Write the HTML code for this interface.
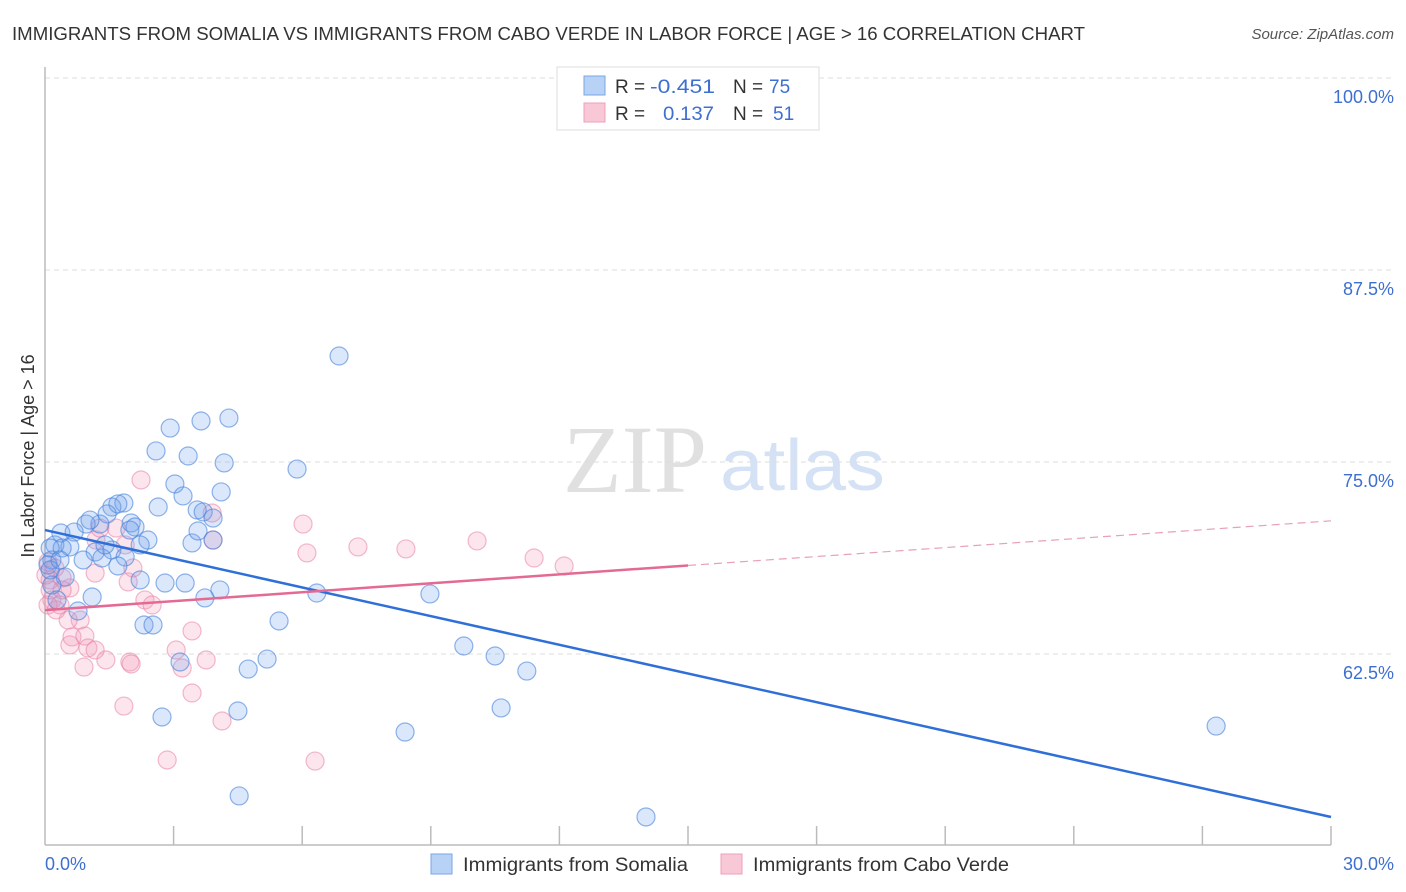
<!DOCTYPE html>
<html><head><meta charset="utf-8"><style>
body{margin:0;background:#fff;font-family:"Liberation Sans",sans-serif;}
svg{display:block}
</style></head><body>
<svg id="chart" width="1406" height="892" xmlns="http://www.w3.org/2000/svg">
<text x="12" y="40" font-size="18" fill="#333" textLength="1073" lengthAdjust="spacingAndGlyphs">IMMIGRANTS FROM SOMALIA VS IMMIGRANTS FROM CABO VERDE IN LABOR FORCE | AGE &gt; 16 CORRELATION CHART</text>
<text x="1394" y="39" font-size="15" fill="#555" font-style="italic" text-anchor="end">Source: ZipAtlas.com</text>
<text x="635" y="492" font-size="96" fill="#e0e0e0" font-family="Liberation Serif,serif" text-anchor="middle">ZIP</text>
<text x="720" y="490" font-size="72" fill="#d5e2f5" textLength="165" lengthAdjust="spacingAndGlyphs">atlas</text>
<g id="grid"></g>
<line x1="45" y1="67" x2="45" y2="845" stroke="#bbb" stroke-width="1.5"/>
<line x1="45" y1="845" x2="1331" y2="845" stroke="#bbb" stroke-width="1.5"/>
<g id="xticks"></g>
<g id="points"></g>
<g id="trends"></g>
<text x="34" y="456" font-size="18" fill="#333" text-anchor="middle" transform="rotate(-90 34 456)">In Labor Force | Age &gt; 16</text>
<text x="45" y="870" font-size="18" fill="#3d6fd1">0.0%</text>
<text x="1394" y="870" font-size="18" fill="#3d6fd1" text-anchor="end">30.0%</text>
<g>
<rect x="557" y="67" width="262" height="63" fill="#fff" stroke="#ddd"/>
<rect x="584" y="76" width="21" height="19" fill="#b8d2f5" stroke="#7aa6e6"/>
<rect x="584" y="103" width="21" height="19" fill="#f8c8d7" stroke="#eca0b9"/>
<text x="615" y="93" font-size="19" fill="#333">R = </text><text x="650" y="93" font-size="19" fill="#3d6fd1" textLength="65" lengthAdjust="spacingAndGlyphs">-0.451</text>
<text x="733" y="93" font-size="19" fill="#333">N = </text><text x="769" y="93" font-size="19" fill="#3d6fd1">75</text>
<text x="615" y="120" font-size="19" fill="#333">R = </text><text x="663" y="120" font-size="19" fill="#3d6fd1" textLength="51" lengthAdjust="spacingAndGlyphs">0.137</text>
<text x="733" y="120" font-size="19" fill="#333">N = </text><text x="773" y="120" font-size="19" fill="#3d6fd1">51</text>
</g>
<g>
<rect x="431" y="854" width="21" height="20" fill="#b8d2f5" stroke="#7aa6e6"/>
<text x="463" y="871" font-size="19" fill="#333" textLength="225" lengthAdjust="spacingAndGlyphs">Immigrants from Somalia</text></g>
<g>
<rect x="721" y="854" width="21" height="20" fill="#f8c8d7" stroke="#eca0b9"/>
<text x="753" y="871" font-size="19" fill="#333" textLength="256" lengthAdjust="spacingAndGlyphs">Immigrants from Cabo Verde</text></g>
</svg>
<script>
const yTicks=[100,87.5,75,62.5];
const yTickLabels=["100.0%","87.5%","75.0%","62.5%"];
const xTicks=[3,6,9,12,15,18,21,24,27,30];
const somaliaX=[6.86,4.29,3.64,2.92,2.59,3.34,4.18,5.88,3.03,3.22,4.11,2.64,1.84,1.56,1.70,1.45,3.55,3.69,3.92,2.01,2.10,1.28,0.96,0.37,0.68,2.40,2.22,3.43,3.92,3.57,0.23,0.58,0.40,1.17,1.56,1.87,0.89,1.33,0.16,1.70,2.22,2.80,3.27,4.08,3.73,1.10,6.34,8.98,0.47,0.77,2.31,2.52,5.46,9.77,3.15,5.18,4.74,10.50,11.24,2.73,4.50,10.64,8.40,4.53,14.02,27.32,0.12,0.07,0.16,0.28,0.12,0.35,1.40,1.05,1.98];
const somaliaY=[81.90,77.86,77.67,77.21,75.72,75.39,74.94,74.54,73.57,72.79,73.05,72.07,72.33,72.07,72.27,71.62,71.88,71.75,71.35,71.03,70.77,70.96,70.96,70.38,70.44,69.92,69.60,69.73,69.92,70.51,69.60,69.47,69.40,69.14,69.27,68.82,68.62,68.75,68.62,68.23,67.32,67.12,67.12,66.67,66.15,66.21,66.47,66.41,67.51,65.30,64.39,64.39,64.65,63.02,61.98,62.17,61.52,62.37,61.39,58.40,58.79,58.99,57.42,53.26,51.89,57.81,69.40,68.30,66.99,66.02,67.97,68.62,69.60,71.22,70.57];
const caboX=[2.24,6.02,3.90,3.92,1.19,1.66,1.28,1.87,6.11,7.30,8.42,10.08,11.41,12.11,0.07,0.23,0.12,0.40,1.17,2.05,0.58,0.16,0.35,2.33,2.50,1.94,0.82,0.54,0.63,0.93,0.58,1.00,1.17,1.42,1.98,2.01,3.06,3.43,3.76,3.20,0.91,3.43,1.84,4.13,2.85,6.30,0.07,0.12,0.26,0.02,0.40];
const caboY=[73.83,70.96,71.68,69.92,69.92,70.70,70.70,69.60,69.08,69.47,69.34,69.86,68.75,68.23,68.49,68.10,67.32,67.45,67.77,68.10,66.80,66.02,65.69,66.02,65.69,67.19,64.71,64.71,63.61,63.67,63.09,62.89,62.76,62.11,61.98,61.85,62.76,64.00,62.11,61.59,61.65,59.96,59.11,58.14,55.60,55.53,65.69,66.67,65.37,67.64,66.67];
const somaliaTrend=[70.57,51.89];
const caboTrend=[65.36,71.17];
const caboSolidEnd=15;

const NS="http://www.w3.org/2000/svg";
const xs=v=>45+v*(1286/30);
const ys=v=>78+(100-v)*15.36;
function mk(tag,attrs,parent){const e=document.createElementNS(NS,tag);for(const k in attrs)e.setAttribute(k,attrs[k]);parent.appendChild(e);return e;}
const grid=document.getElementById('grid');
yTicks.forEach((t,i)=>{
 const l=mk('line',{x1:45,x2:1394,y1:ys(t),y2:ys(t),stroke:'#ddd','stroke-dasharray':'5,4'},grid);
 
 
 const tx=mk('text',{x:1394,y:ys(t)+25,'font-size':18,fill:'#3d6fd1','text-anchor':'end'},grid);
 tx.textContent=yTickLabels[i];
 
 
});
const xt=document.getElementById('xticks');
xTicks.forEach(t=>{
 const l=mk('line',{x1:xs(t),x2:xs(t),y1:826,y2:845,stroke:'#bbb','stroke-width':1.5},xt);
 
 
});
const pts=document.getElementById('points');
caboX.forEach((x,i)=>{
 const c=mk('circle',{cx:xs(x),cy:ys(caboY[i]),r:9,fill:'rgba(242,150,182,0.25)',stroke:'rgba(232,130,165,0.55)','stroke-width':1.2},pts);
 
 
});
somaliaX.forEach((x,i)=>{
 const c=mk('circle',{cx:xs(x),cy:ys(somaliaY[i]),r:9,fill:'rgba(110,160,235,0.25)',stroke:'rgba(70,130,220,0.6)','stroke-width':1.2},pts);
 
 
});
const tr=document.getElementById('trends');
const cy=x=>caboTrend[0]+(caboTrend[1]-caboTrend[0])*x/30;
const l1=mk('line',{x1:xs(0),y1:ys(somaliaTrend[0]),x2:xs(30),y2:ys(somaliaTrend[1]),stroke:'#2f6fd8','stroke-width':2.5},tr);


const l2=mk('line',{x1:xs(0),y1:ys(cy(0)),x2:xs(caboSolidEnd),y2:ys(cy(caboSolidEnd)),stroke:'#e46a93','stroke-width':2.5},tr);


const l3=mk('line',{x1:xs(caboSolidEnd),y1:ys(cy(caboSolidEnd)),x2:xs(30),y2:ys(cy(30)),stroke:'#e8a0b8','stroke-width':1.2,'stroke-dasharray':'8,5'},tr);


</script>
</body></html>
